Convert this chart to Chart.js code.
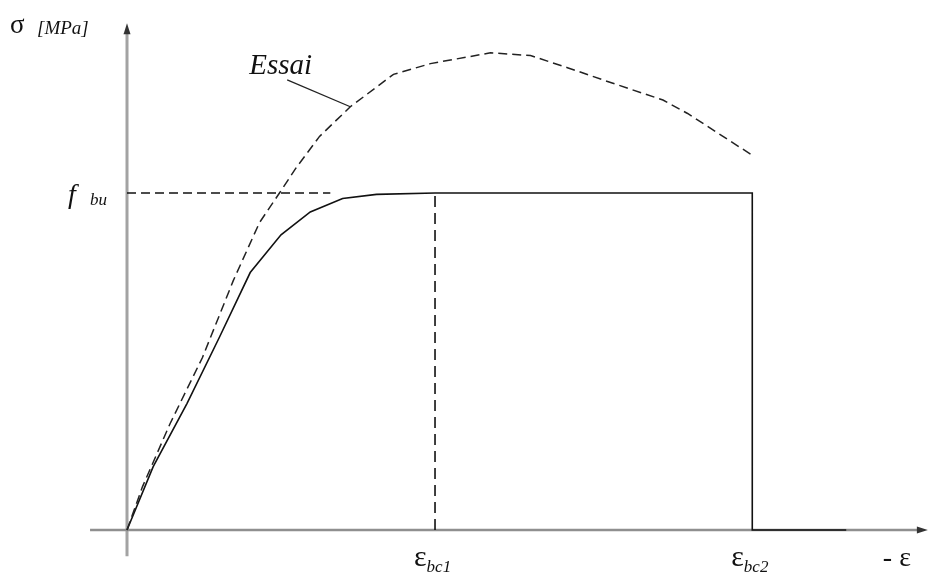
<!DOCTYPE html>
<html>
<head>
<meta charset="utf-8">
<script src="https://cdn.jsdelivr.net/npm/chart.js@4.4.1/dist/chart.umd.min.js"></script>
<style>
  html, body { margin: 0; padding: 0; background: #fff; }
</style>
</head>
<body>
<canvas id="diagram" width="930" height="577"></canvas>
<script>
// strain (arbitrary units) / stress (MPa)
const epsBc1 = 2.0;
const epsBc2 = 4.06;
const epsEnd = 4.67;
const fbu = 25;
const fbuDashEnd = 1.32;

// parabola-rectangle design law
const designEps = [0, 0.17, 0.39, 0.6, 0.8, 1.0, 1.19, 1.4, 1.62, epsBc1, epsBc2, epsBc2, epsEnd];
const designSig = [0, 4.7, 9.4, 14.3, 19.1, 21.9, 23.6, 24.6, 24.9, fbu, fbu, 0, 0];

// test curve "Essai"
const essaiEps = [0, 0.10, 0.28, 0.49, 0.69, 0.86, 0.99, 1.10, 1.25, 1.45, 1.73, 1.97, 2.36, 2.62, 2.86, 3.14, 3.48, 3.64, 4.06];
const essaiSig = [0, 3.2, 7.9, 12.8, 18.5, 22.8, 25.0, 26.9, 29.2, 31.4, 33.8, 34.6, 35.4, 35.2, 34.3, 33.2, 31.9, 30.9, 27.8];

// leader line from the "Essai" label to the curve
const leaderEps = [1.04, 1.45];
const leaderSig = [33.4, 31.4];

// axes extent and view window
const xAxisFrom = -0.24, xAxisTo = 5.2;
const yAxisFrom = -1.95, yAxisTo = 37.6;
const viewX = [-0.8247, 5.214];
const viewY = [-3.487, 39.32];

function pts(xs, ys) {
  return xs.map((x, i) => ({ x: x, y: ys[i] }));
}

const annotate = {
  id: 'annotate',
  afterDatasetsDraw(chart) {
    const ctx = chart.ctx;
    const sx = chart.scales.x, sy = chart.scales.y;
    const ox = sx.getPixelForValue(0), oy = sy.getPixelForValue(0);
    const topY = sy.getPixelForValue(yAxisTo);
    const rightX = sx.getPixelForValue(xAxisTo);

    ctx.save();
    // arrow heads
    ctx.fillStyle = '#333';
    ctx.beginPath();
    ctx.moveTo(ox, topY);
    ctx.lineTo(ox - 3.5, topY + 11);
    ctx.lineTo(ox + 3.5, topY + 11);
    ctx.closePath();
    ctx.fill();
    ctx.beginPath();
    ctx.moveTo(rightX, oy);
    ctx.lineTo(rightX - 11, oy - 3.5);
    ctx.lineTo(rightX - 11, oy + 3.5);
    ctx.closePath();
    ctx.fill();

    ctx.fillStyle = '#111';
    ctx.textBaseline = 'alphabetic';
    ctx.textAlign = 'left';
    function txt(s, x, y, font) {
      ctx.font = font;
      ctx.fillText(s, x, y);
      return x + ctx.measureText(s).width;
    }

    // y axis title
    txt('σ', ox - 117, topY + 10, '27px "Liberation Serif"');
    txt('[MPa]', ox - 90, topY + 11, 'italic 19px "Liberation Serif"');

    // f bu
    const fy = sy.getPixelForValue(fbu);
    txt('f', ox - 59, fy + 10, 'italic 28px "Liberation Serif"');
    txt('bu', ox - 37, fy + 12, 'italic 17px "Liberation Serif"');

    // Essai
    txt('Essai', sx.getPixelForValue(leaderEps[0]) - 38, sy.getPixelForValue(leaderSig[0]) - 6, 'italic 29px "Liberation Serif"');

    // strain labels
    const e1 = sx.getPixelForValue(epsBc1), e2 = sx.getPixelForValue(epsBc2);
    let end = txt('ε', e1 - 21, oy + 36, '30px "Liberation Serif"');
    txt('bc1', end, oy + 42, 'italic 17px "Liberation Serif"');
    end = txt('ε', e2 - 21, oy + 36, '30px "Liberation Serif"');
    txt('bc2', end, oy + 42, 'italic 17px "Liberation Serif"');
    txt('- ε', rightX - 45, oy + 36, '28px "Liberation Serif"');
    ctx.restore();
  }
};

const dashed = [9, 5];

new Chart(document.getElementById('diagram'), {
  type: 'line',
  data: {
    datasets: [
      { data: pts([xAxisFrom, xAxisTo - 0.05], [0, 0]), borderColor: '#8f8f8f', borderWidth: 2.5, order: 10 },
      { data: pts([0, 0], [yAxisFrom, yAxisTo - 0.6]), borderColor: '#a3a3a3', borderWidth: 3, order: 10 },
      { data: pts([0, fbuDashEnd], [fbu, fbu]), borderColor: '#111', borderWidth: 1.6, borderDash: dashed, order: 2 },
      { data: pts([epsBc1, epsBc1], [0, fbu]), borderColor: '#111', borderWidth: 1.6, borderDash: [11, 6], order: 2 },
      { data: pts(essaiEps, essaiSig), borderColor: '#222', borderWidth: 1.5, borderDash: dashed, order: 1 },
      { data: pts(designEps, designSig), borderColor: '#111', borderWidth: 1.6, order: 1 },
      { data: pts(leaderEps, leaderSig), borderColor: '#222', borderWidth: 1.3, order: 1 }
    ]
  },
  options: {
    responsive: false,
    animation: false,
    devicePixelRatio: 1,
    layout: { padding: 0 },
    elements: {
      point: { radius: 0 },
      line: { tension: 0, fill: false, borderCapStyle: 'butt', borderJoinStyle: 'miter' }
    },
    scales: {
      x: { type: 'linear', display: false, min: viewX[0], max: viewX[1] },
      y: { type: 'linear', display: false, min: viewY[0], max: viewY[1] }
    },
    plugins: {
      legend: { display: false },
      tooltip: { enabled: false }
    }
  },
  plugins: [annotate]
});
</script>
</body>
</html>
